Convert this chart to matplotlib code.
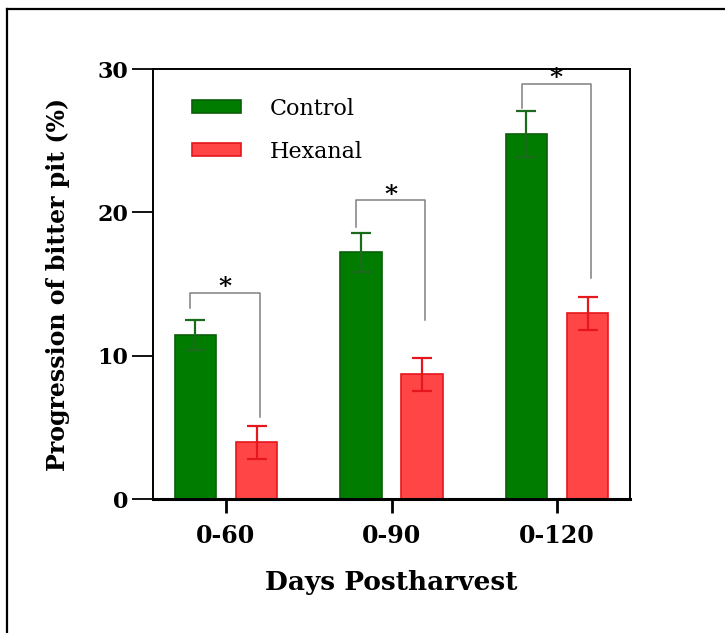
import numpy as np
import matplotlib
matplotlib.use("Agg")
import matplotlib.pyplot as plt
from matplotlib.lines import Line2D

# Dane
categories = ["0-60", "0-90", "0-120"]
control = [11.45, 17.2, 25.45]
control_err = [1.05, 1.38, 1.6]
hexanal = [3.95, 8.7, 12.95]
hexanal_err = [1.15, 1.15, 1.15]

# Nawiasy istotnosci: wysokosc gory, dol lewej nogi, dol prawej nogi
bracket_top = [14.4, 20.85, 28.95]
bracket_left = [13.3, 19.0, 27.3]
bracket_right = [5.7, 12.5, 15.4]
signif = ["*", "*", "*"]

plt.rcParams['font.family'] = ['DejaVu Serif']

green = "#007C00"
green_edge = "#0B5E0B"
red = "#FF4545"
red_edge = "#E5161C"

fig = plt.figure(figsize=(7.25, 6.33), dpi=100)
ax = fig.add_axes([153/725, 134/633, 477/725, 430/633])

x = np.arange(len(categories))
off = 0.185
w = 0.25

ax.bar(x - off, control, w, color=green, edgecolor=green_edge, linewidth=1.2,
       label="Control", zorder=2)
ax.bar(x + off, hexanal, w, color=red, edgecolor=red_edge, linewidth=1.2,
       label="Hexanal", zorder=2)
ax.errorbar(x - off, control, yerr=control_err, fmt="none", ecolor="#1C6A1C",
            elinewidth=1.6, capsize=7.5, capthick=1.6, zorder=3)
ax.errorbar(x + off, hexanal, yerr=hexanal_err, fmt="none", ecolor=red_edge,
            elinewidth=1.6, capsize=7.5, capthick=1.6, zorder=3)

# Nawiasy z gwiazdka
for i in range(len(categories)):
    xl = x[i] - off - 0.03
    xr = x[i] + off + 0.02
    ax.plot([xl, xl, xr, xr], [bracket_left[i], bracket_top[i], bracket_top[i], bracket_right[i]],
            color="#808080", lw=1.1, zorder=1)
    ax.text((xl + xr) / 2, bracket_top[i] - 0.45, signif[i], ha="center", va="bottom",
            fontsize=18, fontweight="bold")

ax.set_xlim(-0.44, 2.44)
ax.set_ylim(0, 30)
ax.set_yticks([0, 10, 20, 30])
ax.set_xticks(x)
ax.set_xticklabels(categories)

for lab in ax.get_yticklabels():
    lab.set_fontweight("bold")
    lab.set_fontsize(16)
for lab in ax.get_xticklabels():
    lab.set_fontweight("bold")
    lab.set_fontsize(17)

ax.tick_params(axis="y", direction="out", length=15, width=1.3, pad=3)
ax.tick_params(axis="x", direction="out", length=10, width=2, pad=8)

for s in ["left", "top", "right"]:
    ax.spines[s].set_linewidth(1.4)
ax.spines["bottom"].set_linewidth(2.2)

ax.set_xlabel("Days Postharvest", fontsize=19, fontweight="bold", labelpad=16)
ax.set_ylabel("Progression of bitter pit (%)", fontsize=17, fontweight="bold")
ax.yaxis.set_label_coords(-0.175, 0.5)

ax.legend(loc="upper left", bbox_to_anchor=(0.04, 0.98), frameon=False,
          fontsize=16, handlelength=2.2, handleheight=0.5, handletextpad=1.3,
          labelspacing=0.95)

# Ramka obrazka (tylko gora i lewa strona)
fig.add_artist(Line2D([7/725, 1.0], [1 - 9/633, 1 - 9/633], color="black", lw=1.6))
fig.add_artist(Line2D([7/725, 7/725], [0, 1 - 9/633], color="black", lw=1.6))

fig.savefig("out.png", dpi=100)
